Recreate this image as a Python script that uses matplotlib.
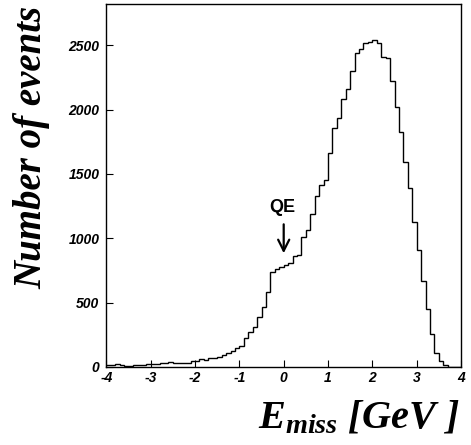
import numpy as np
import matplotlib
matplotlib.use("Agg")
import matplotlib.pyplot as plt

# Histogram counts per 0.1 GeV bin, from -4.0 to 4.0
counts = [
    15, 18, 20, 12, 10, 9, 15, 18, 17, 22,          # -4.0 .. -3.1
    25, 22, 30, 32, 35, 33, 32, 34, 30, 47,         # -3.0 .. -2.1
    45, 62, 56, 72, 72, 75, 95, 105, 125, 150,      # -2.0 .. -1.1
    165, 225, 275, 312, 387, 468, 582, 738, 764, 777,   # -1.0 .. -0.1
    792, 808, 860, 872, 1008, 1068, 1190, 1332, 1415, 1450,  # 0.0 .. 0.9
    1659, 1860, 1935, 2081, 2159, 2301, 2436, 2470, 2514, 2522,  # 1.0 .. 1.9
    2540, 2519, 2410, 2397, 2220, 2021, 1822, 1593, 1391, 1130,  # 2.0 .. 2.9
    906, 670, 453, 260, 112, 44, 12, 3, 0, 0,       # 3.0 .. 3.9
]
x_min, x_max, n_bins = -4.0, 4.0, 80
x_ticks = [-4, -3, -2, -1, 0, 1, 2, 3, 4]
y_ticks = [0, 500, 1000, 1500, 2000, 2500]
qe_label = "QE"
qe_arrow = (0.0, 1130, 862)   # x, arrow start value, arrow tip value

edges = np.linspace(x_min, x_max, n_bins + 1)

plt.rcParams["mathtext.fontset"] = "custom"
plt.rcParams["mathtext.it"] = "Liberation Serif:bold:italic"
plt.rcParams["mathtext.rm"] = "Liberation Serif:bold:italic"
plt.rcParams["mathtext.bf"] = "Liberation Serif:bold:italic"

fig = plt.figure(figsize=(4.71, 4.45), dpi=100)
ax = fig.add_axes([106.4 / 471, 1 - 367 / 445, (461 - 106.4) / 471, (367 - 4) / 445])

ax.stairs(counts, edges, baseline=None, fill=False, color="black", linewidth=1.0)

ax.set_xlim(x_min, x_max)
ax.set_ylim(0, 2820)
ax.set_xticks(x_ticks)
ax.set_yticks(y_ticks)
ax.set_xticklabels([str(t) for t in x_ticks])
ax.set_yticklabels([str(t) for t in y_ticks])

tick_font = dict(family="Liberation Sans", weight="bold", style="italic", size=10)
for lab in ax.get_xticklabels() + ax.get_yticklabels():
    lab.set_fontproperties(matplotlib.font_manager.FontProperties(**tick_font))

ax.tick_params(direction="in", length=5, width=0.8, color="black", pad=3)
ax.tick_params(axis="y", pad=5)
for sp in ax.spines.values():
    sp.set_linewidth(1.0)
    sp.set_color("black")

# QE annotation
ax.text(qe_arrow[0] - 0.03, 1240, qe_label, ha="center", va="center",
        fontfamily="Liberation Sans", fontweight="bold", fontsize=13)
ax.annotate("", xy=(qe_arrow[0], qe_arrow[2]), xytext=(qe_arrow[0], qe_arrow[1]),
            arrowprops=dict(arrowstyle="->", lw=1.6, color="black", mutation_scale=20))

# Axis titles
serif_bi = dict(family="Liberation Serif", weight="bold", style="italic")
fig.text(32 / 471, 1 - 147 / 445, "Number of events", rotation=90,
         ha="center", va="center", fontsize=28, **serif_bi)

fig.text(459 / 471, 1 - 428 / 445, r"$E_{miss}$ [GeV ]", ha="right", va="baseline",
         fontsize=29, **serif_bi)

fig.savefig("out.png", dpi=100)
